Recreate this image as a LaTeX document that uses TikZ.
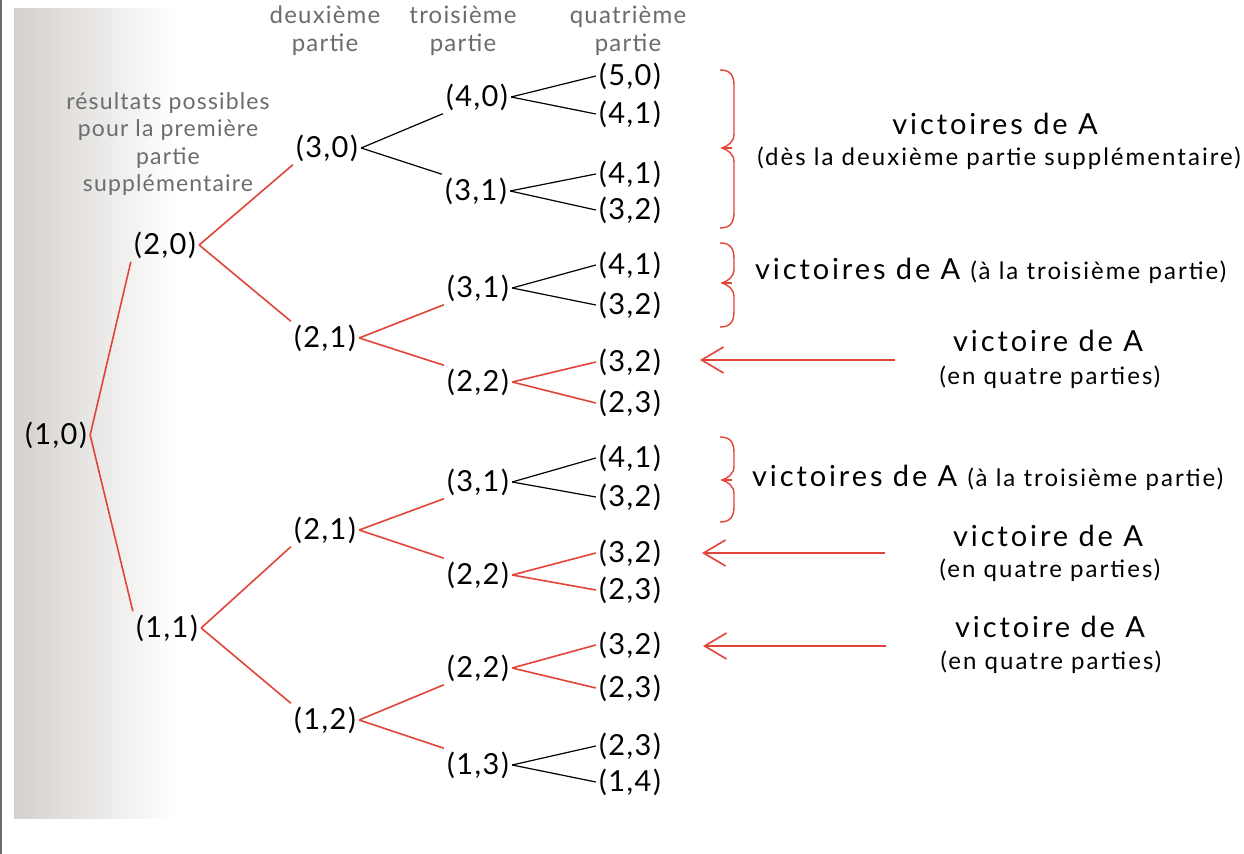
\documentclass[tikz,border=0pt]{standalone}
\usepackage{fontspec}
\setmainfont{Lato}[LetterSpace=5]
\newfontfamily\remarkfont{Lato}[LetterSpace=10]
\newfontfamily\notefont{Lato}[LetterSpace=8.5]
\usetikzlibrary{arrows.meta}
\definecolor{arbred}{RGB}{226,68,56}
\definecolor{arbgray}{RGB}{108,108,108}
\definecolor{pagegray}{RGB}{212,208,204}
\tikzset{
  scorenode/.style={inner sep=1.5pt,font=\fontsize{14.5}{17}\selectfont},
  headnode/.style={align=center,text=arbgray,font=\fontsize{12}{14}\selectfont},
  winnode/.style={font=\remarkfont\fontsize{14.5}{17}\selectfont},
  notenode/.style={font=\notefont\fontsize{12}{14}\selectfont},
  redge/.style={draw=arbred,line width=0.8pt},
  kedge/.style={draw=black,line width=0.6pt},
  bracered/.style={draw=arbred,line width=0.7pt},
  redarrow/.style={-{Straight Barb[length=11pt,width=13pt]},draw=arbred,line width=0.8pt}
}
\newcommand{\notesize}{\notefont\fontsize{12}{14}\selectfont}

\begin{document}
\begin{tikzpicture}[x=0.5pt,y=-0.5pt]
  \useasboundingbox (0,0) rectangle (1244,854);
  \fill[white] (0,0) rectangle (1244,854);
  \shade[left color=pagegray,right color=white] (14,9) rectangle (175,819);
  \fill[arbgray] (0,0) rectangle (2,854);
  % column headings
  \node[headnode] (head2) at (325,31) {deuxième\\partie};
  \node[headnode] (head3) at (463,31) {troisième\\partie};
  \node[headnode] (head4) at (628,31) {quatrième\\partie};
  \node[headnode,font=\fontsize{11.5}{13.7}\selectfont] (head1) at (168,144)
    {résultats possibles\\pour la première\\partie\\supplémentaire};
  % tree
  \node[scorenode] (n10) at (56,435) {(1,0)};
  \node[scorenode] (n20) at (165,245) {(2,0)};
  \node[scorenode] (n11) at (167,628) {(1,1)};
  \node[scorenode] (n30) at (327,148) {(3,0)};
  \node[scorenode] (n21a) at (325,338) {(2,1)};
  \node[scorenode] (n21b) at (325,530) {(2,1)};
  \node[scorenode] (n12) at (325,720) {(1,2)};
  \node[scorenode] (n40) at (477,97) {(4,0)};
  \node[scorenode] (n31a) at (476,191) {(3,1)};
  \node[scorenode] (n31b) at (478,288) {(3,1)};
  \node[scorenode] (n22a) at (478,382) {(2,2)};
  \node[scorenode] (n31c) at (478,482) {(3,1)};
  \node[scorenode] (n22b) at (478,575) {(2,2)};
  \node[scorenode] (n22c) at (478,668) {(2,2)};
  \node[scorenode] (n13) at (478,765) {(1,3)};
  \node[scorenode] (q1) at (630,76) {(5,0)};
  \node[scorenode] (q2) at (630,114) {(4,1)};
  \node[scorenode] (q3) at (630,174) {(4,1)};
  \node[scorenode] (q4) at (630,210) {(3,2)};
  \node[scorenode] (q5) at (630,265) {(4,1)};
  \node[scorenode] (q6) at (630,305) {(3,2)};
  \node[scorenode] (q7) at (630,362) {(3,2)};
  \node[scorenode] (q8) at (630,403) {(2,3)};
  \node[scorenode] (q9) at (630,458) {(4,1)};
  \node[scorenode] (q10) at (630,497) {(3,2)};
  \node[scorenode] (q11) at (630,553) {(3,2)};
  \node[scorenode] (q12) at (630,590) {(2,3)};
  \node[scorenode] (q13) at (630,645) {(3,2)};
  \node[scorenode] (q14) at (630,688) {(2,3)};
  \node[scorenode] (q15) at (630,746) {(2,3)};
  \node[scorenode] (q16) at (630,782) {(1,4)};
  \draw[redge] (n10.east) -- (n20.south west);
  \draw[redge] (n10.east) -- (n11.north west);
  \draw[redge] (n20.east) -- (n30.south west);
  \draw[redge] (n20.east) -- (n21a.north west);
  \draw[redge] (n11.east) -- (n21b.south west);
  \draw[redge] (n11.east) -- (n12.north west);
  \draw[kedge] (n30.east) -- (n40.south west);
  \draw[kedge] (n30.east) -- (n31a.north west);
  \draw[redge] (n21a.east) -- (n31b.south west);
  \draw[redge] (n21a.east) -- (n22a.north west);
  \draw[redge] (n21b.east) -- (n31c.south west);
  \draw[redge] (n21b.east) -- (n22b.north west);
  \draw[redge] (n12.east) -- (n22c.south west);
  \draw[redge] (n12.east) -- (n13.north west);
  \draw[kedge] (n40.east) -- (q1.west);
  \draw[kedge] (n40.east) -- (q2.west);
  \draw[kedge] (n31a.east) -- (q3.west);
  \draw[kedge] (n31a.east) -- (q4.west);
  \draw[kedge] (n31b.east) -- (q5.west);
  \draw[kedge] (n31b.east) -- (q6.west);
  \draw[redge] (n22a.east) -- (q7.west);
  \draw[redge] (n22a.east) -- (q8.west);
  \draw[kedge] (n31c.east) -- (q9.west);
  \draw[kedge] (n31c.east) -- (q10.west);
  \draw[redge] (n22b.east) -- (q11.west);
  \draw[redge] (n22b.east) -- (q12.west);
  \draw[redge] (n22c.east) -- (q13.west);
  \draw[redge] (n22c.east) -- (q14.west);
  \draw[kedge] (n13.east) -- (q15.west);
  \draw[kedge] (n13.east) -- (q16.west);
  % braces
  \foreach \ya/\ym/\yb in {70/148/228, 243/283/327, 437/480/522} {
    \draw[bracered] (720,\ya) .. controls (731,\ya) and (734,{\ya+6}) .. (734,{\ya+16})
      -- (734,{\ym-14}) .. controls (734,{\ym-6}) and (728,{\ym-2}) .. (722,\ym)
      .. controls (728,{\ym+2}) and (734,{\ym+6}) .. (734,{\ym+14})
      -- (734,{\yb-16}) .. controls (734,{\yb-6}) and (731,\yb) .. (720,\yb);
    \draw[bracered] (722,\ym) -- (732,\ym);
  }
  % comments on the right
  \node[winnode,anchor=base] (winA) at (995,135) {victoires de A};
  \node[notenode,anchor=base] (winAnote) at (999,166) {(dès la deuxième partie supplémentaire)};
  \node[winnode,anchor=base west] (winB) at (748,280) {victoires de A {\notesize (à la troisième partie)}};
  \node[winnode,anchor=base west] (winC) at (745,487) {victoires de A {\notesize (à la troisième partie)}};
  \node[winnode,anchor=base] (winD) at (1048,352) {victoire de A};
  \node[notenode,anchor=base] (winDnote) at (1050,385) {(en quatre parties)};
  \node[winnode,anchor=base] (winE) at (1048,547) {victoire de A};
  \node[notenode,anchor=base] (winEnote) at (1050,578) {(en quatre parties)};
  \node[winnode,anchor=base] (winF) at (1050,638) {victoire de A};
  \node[notenode,anchor=base] (winFnote) at (1051,670) {(en quatre parties)};
  \coordinate (tailD) at (895,360);
  \coordinate (tipD) at (700,360);
  \coordinate (tailE) at (885,553);
  \coordinate (tipE) at (702,553);
  \coordinate (tailF) at (886,646);
  \coordinate (tipF) at (703,646);
  \draw[redarrow] (tailD) -- (tipD);
  \draw[redarrow] (tailE) -- (tipE);
  \draw[redarrow] (tailF) -- (tipF);
\end{tikzpicture}
\end{document}
